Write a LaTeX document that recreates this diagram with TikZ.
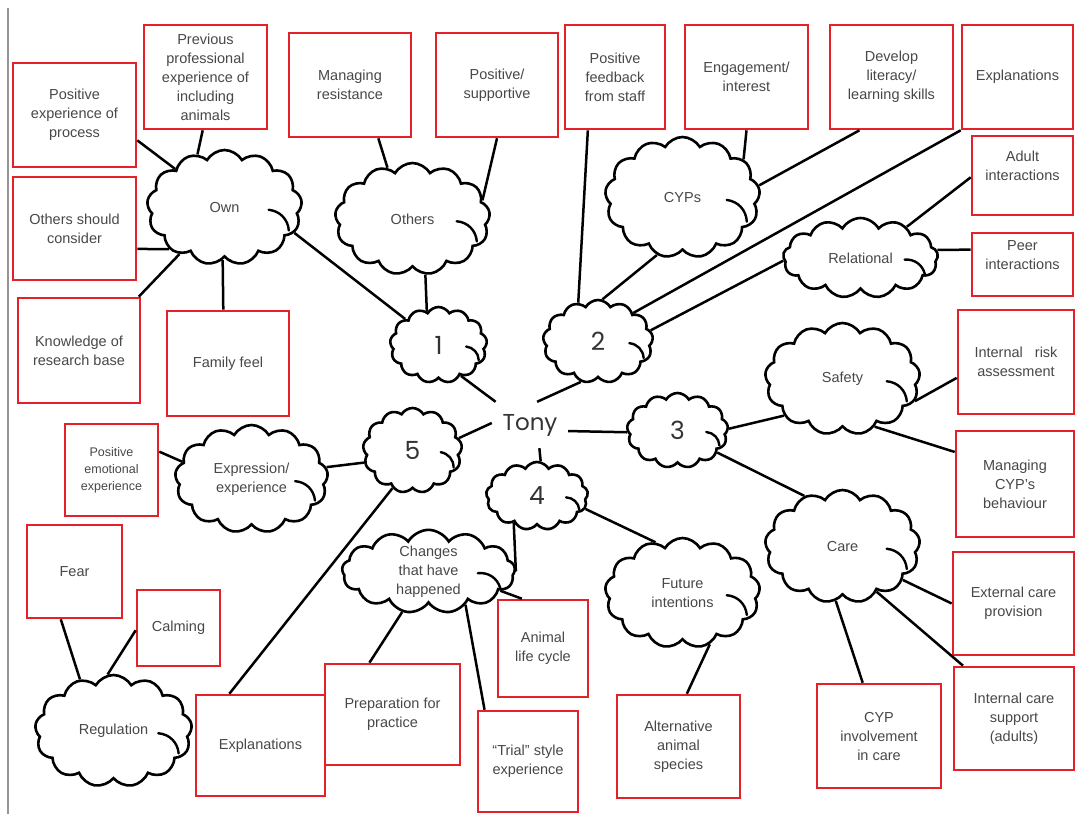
\documentclass[tikz,border=0pt]{standalone}
\usepackage{fontspec}
\setmainfont{Liberation Sans}
\newfontfamily\roundfont{Poppins}
\usetikzlibrary{shapes.symbols,calc}
\definecolor{boxred}{RGB}{228,32,40}
\definecolor{txtgray}{RGB}{72,72,72}
\definecolor{rulegray}{RGB}{150,150,150}
\begin{document}
\begin{tikzpicture}[x=1pt,y=-1pt,
  box/.style={draw=boxred, line width=2.6pt, fill=white, align=center,
    text=txtgray, font=\fontsize{14.5}{19}\selectfont, inner sep=0pt},
  smallbox/.style={box, font=\fontsize{12.5}{17}\selectfont},
  puff/.style={cloud, draw=black, line width=2.6pt, fill=white,
    cloud puffs=13, cloud puff arc=120, cloud ignores aspect,
    align=center, text=txtgray, font=\fontsize{14.5}{19}\selectfont, inner sep=0pt},
  numpuff/.style={puff, font=\roundfont\fontsize{25}{28}\selectfont, text=black!80},
  curl/.style={line width=2.4pt, line cap=round},
  hub/.style={font=\roundfont\fontsize{23}{26}\selectfont, text=black!80,
    minimum width=76, minimum height=46, inner sep=0pt},
  link/.style={line width=2.5pt, black}]
\useasboundingbox (0,0) rectangle (1076,814);

% page edge rule
\coordinate (ruletop) at (8,8);
\coordinate (rulebot) at (8,814);
\draw[rulegray, line width=1.8pt] (ruletop) -- (rulebot);

% centre
\node[hub] (tony) at (530,425) {Tony};

% theme clouds
\node[numpuff, minimum width=97,  minimum height=76] (c1) at (438.5,345) {1};
\node[numpuff, minimum width=110, minimum height=83] (c2) at (598,341.5) {2};
\node[numpuff, minimum width=101, minimum height=75] (c3) at (677.5,430.5) {3};
\node[numpuff, minimum width=102, minimum height=68] (c4) at (537,496) {4};
\node[numpuff, minimum width=99,  minimum height=85] (c5) at (412.5,450.5) {5};

% sub-theme clouds
\node[puff, minimum width=155, minimum height=115] (own) at (224.5,207.5) {Own};
\node[puff, minimum width=155, minimum height=112] (others) at (412.5,219) {Others};
\node[puff, minimum width=155, minimum height=121] (cyps) at (682.5,197.5) {CYPs};
\node[puff, minimum width=155, minimum height=80] (relational) at (860.5,258) {Relational};
\node[puff, minimum width=155, minimum height=112] (safety) at (842.5,379) {Safety};
\node[puff, minimum width=155, minimum height=113] (care) at (842.5,546.5) {Care};
\node[puff, minimum width=153, minimum height=108] (expression) at (251.5,479) {Expression/\\experience};
\node[puff, minimum width=157, minimum height=112] (regulation) at (113.5,731) {Regulation};
\node[puff, minimum width=173, minimum height=83] (changes) at (428.5,571.5) {Changes\\that have\\happened};
\node[puff, minimum width=155, minimum height=110] (future) at (682.5,593) {Future\\intentions};

% inner curl on the right of every cloud, running out to its outline
\foreach \n/\w/\h in {c1/97/76, c2/110/83, c3/101/75, c4/102/68, c5/99/85,
    own/155/115, others/155/112, cyps/155/121, relational/155/80,
    safety/155/112, care/155/113, expression/153/108, regulation/157/112,
    changes/173/83, future/155/110}
  \draw[curl] ($(\n.center)+(0.285*\w,0.02*\h)$) to[bend left=40] ($(\n.center)+(0.415*\w,0.2*\h)$);

% code boxes
\node[box, minimum width=123, minimum height=104] (posexp) at (74.5,115) {Positive\\experience of\\process};
\node[box, minimum width=123, minimum height=104] (prevprof) at (205.5,77) {Previous\\professional\\experience of\\including\\animals};
\node[box, minimum width=122, minimum height=104] (manres) at (350,85) {Managing\\resistance};
\node[box, minimum width=122, minimum height=104] (possup) at (497,85) {Positive/\\supportive};
\node[box, minimum width=100, minimum height=104] (posfb) at (615,77) {Positive\\feedback\\from staff};
\node[box, minimum width=123, minimum height=104] (engage) at (746.5,77) {Engagement/\\interest};
\node[box, minimum width=123, minimum height=104] (develop) at (891.5,77) {Develop\\literacy/\\learning skills};
\node[box, minimum width=111, minimum height=104] (explT) at (1017.5,77) {Explanations};
\node[box, minimum width=101, minimum height=79] (adult) at (1022.5,175.5) {Adult\\interactions\\\mbox{}};
\node[box, minimum width=101, minimum height=63] (peer) at (1022.5,264.5) {Peer\\interactions\\\mbox{}};
\node[box, minimum width=123, minimum height=103] (othc) at (74.5,228.5) {Others should\\consider};
\node[box, minimum width=122, minimum height=105] (knowledge) at (79,350.5) {Knowledge of\\research base};
\node[box, minimum width=122, minimum height=105] (family) at (228,363.5) {Family feel};
\node[smallbox, minimum width=93, minimum height=92] (posemo) at (111.5,470) {Positive\\emotional\\experience};
\node[box, minimum width=95, minimum height=93] (fear) at (74.5,571.5) {Fear};
\node[box, minimum width=83, minimum height=76] (calming) at (178.5,628) {Calming};
\node[box, minimum width=129, minimum height=101] (explB) at (260.5,745.5) {Explanations};
\node[box, minimum width=135, minimum height=101] (prep) at (392.5,714.5) {Preparation for\\practice};
\node[box, minimum width=100, minimum height=101] (trial) at (528,761.5) {“Trial” style\\experience};
\node[box, minimum width=90, minimum height=97] (animal) at (543,648.5) {Animal\\life cycle};
\node[box, minimum width=123, minimum height=103] (altern) at (678.5,746.5) {Alternative\\animal\\species};
\node[box, minimum width=124, minimum height=104] (cypinv) at (879,736) {CYP\\involvement\\in care};
\node[box, minimum width=121, minimum height=103] (extcare) at (1013.5,603.5) {External care\\provision};
\node[box, minimum width=120, minimum height=103] (intcare) at (1014,718.5) {Internal care\\support\\(adults)};
\node[box, minimum width=116, minimum height=104] (intrisk) at (1016,362) {Internal \ \ risk\\assessment};
\node[box, minimum width=118, minimum height=106] (mancyp) at (1015,484) {Managing\\CYP's\\behaviour};

% connectors from the centre
\draw[link] (tony.146) -- (c1.-54);
\draw[link] (tony.73) -- (c2.247);
\draw[link] (tony.-9) -- (c3.182);
\draw[link] (tony.177) -- (c5.15);
\draw[link] (tony.-68) -- (c4.84);

% theme 1
\draw[link] (c1.142) -- (own.-20);
\draw[link] (c1.109) -- (others.-77);
\draw[link] (own.142) -- (posexp.-22);
\draw[link] (own.117) -- (prevprof.-93);
\draw[link] (own.217) -- (othc.-18);
\draw[link] (own.226) -- (knowledge.42);
\draw[link] (own.-92) -- (family.95);
\draw[link] (others.116) -- (manres.-62);
\draw[link] (others.15) -- (possup.south);

% theme 2
\draw[link] (c2.117) -- (posfb.-117);
\draw[link] (c2.84) -- (cyps.246);
\draw[link] (c2.39) -- (explT.south west);
\draw[link] (c2.12) -- (relational.182);
\draw[link] (cyps.32) -- (engage.south);
\draw[link] (cyps.9) -- (develop.-121);
\draw[link] (relational.34) -- (adult.182);
\draw[link] (relational.6) -- (peer.164);

% theme 3
\draw[link] (c3.2) -- (safety.212);
\draw[link] (c3.-29) -- (care.127);
\draw[link] (safety.-17) -- (intrisk.195);
\draw[link] (safety.-56) -- (mancyp.152);
\draw[link] (care.-29) -- (extcare.west);
\draw[link] (care.-53) -- (intcare.134);
\draw[link] (care.263) -- (cypinv.107);

% theme 4
\draw[link] (c4.-15) -- (future.118);
\draw[link] (c4.229) -- (changes.east);
\draw[link] (changes.-15) -- (animal.113);
\draw[link] (changes.-42) -- (trial.130);
\draw[link] (changes.237) -- (prep.114);
\draw[link] (future.-62) -- (altern.81);

% theme 5
\draw[link] (c5.242) -- (explB.121);
\draw[link] (c5.194) -- (expression.9);
\draw[link] (expression.166) -- (posemo.21);
\draw[link] (regulation.123) -- (fear.254);
\draw[link] (regulation.96) -- (calming.183);
\end{tikzpicture}
\end{document}
